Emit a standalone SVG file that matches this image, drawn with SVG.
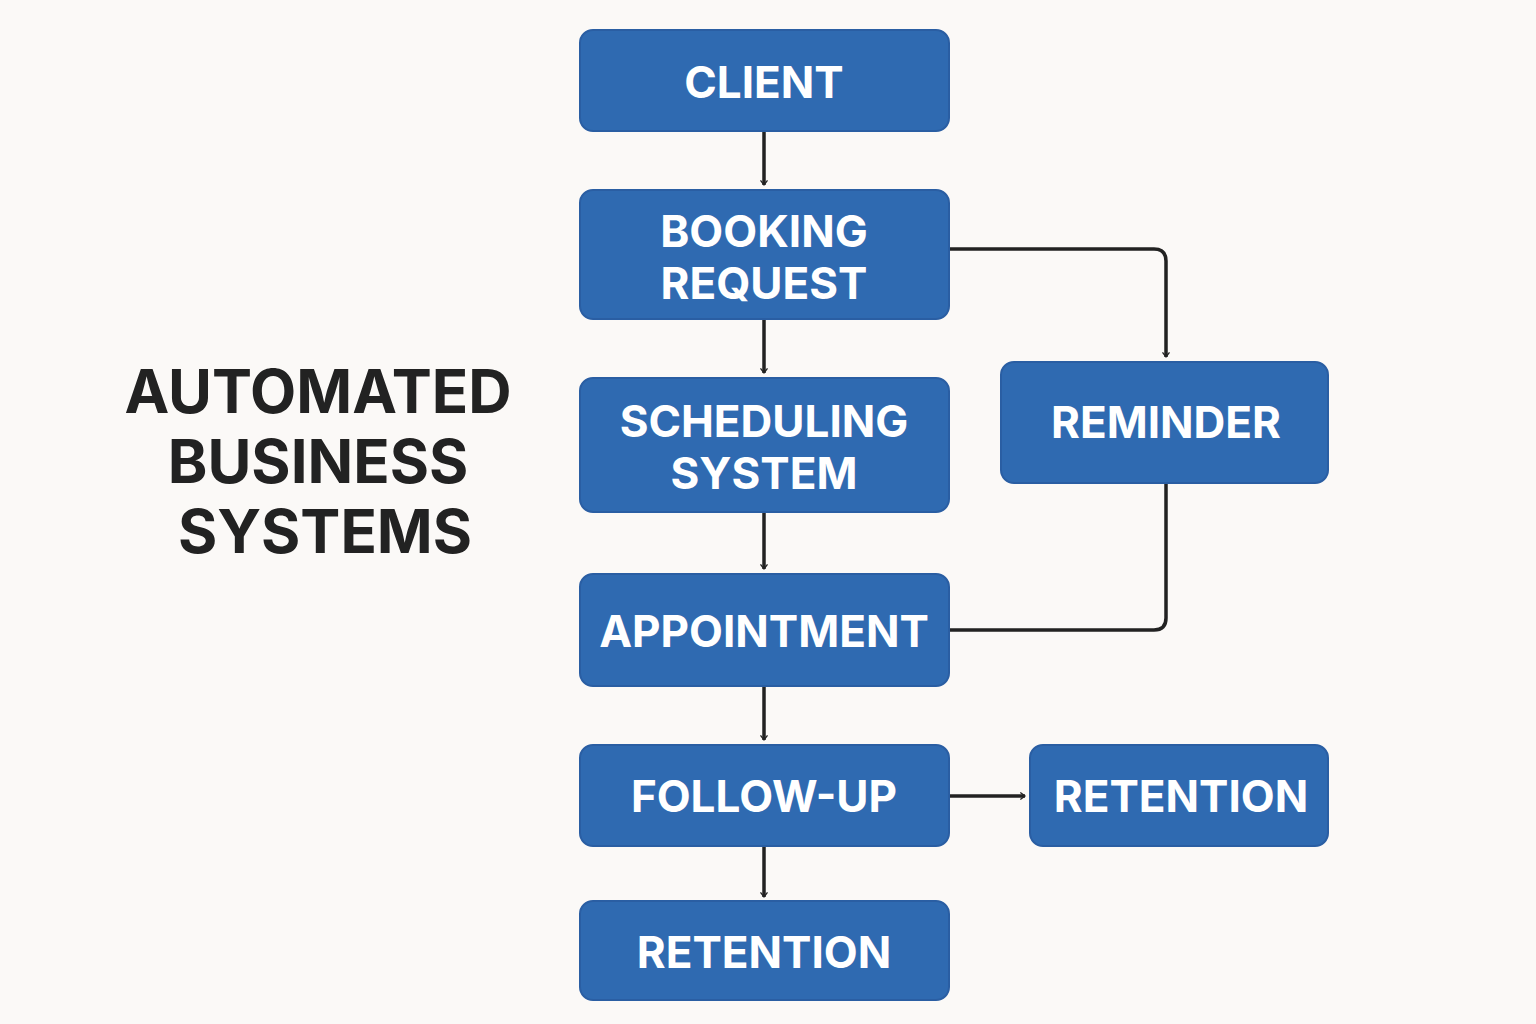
<svg xmlns="http://www.w3.org/2000/svg" width="1536" height="1024" viewBox="0 0 1536 1024">
<defs>
<style>
.n{fill:#2f6ab1;stroke:#2a5ea3;stroke-width:2}
.t{fill:#fff;font-family:Inter,"Liberation Sans",sans-serif;font-weight:700;font-size:44px;text-anchor:middle}
.h{fill:#222;font-family:Inter,"Liberation Sans",sans-serif;font-weight:700;font-size:60px;text-anchor:middle}
.c{fill:none;stroke:#222;stroke-width:3.5;stroke-linejoin:round}
</style>
<marker id="a" viewBox="0 0 12 12" refX="10" refY="6" markerWidth="7" markerHeight="7" markerUnits="userSpaceOnUse" orient="auto" style="overflow:visible">
<path d="M2,0 L10,6 L2,12" fill="none" stroke="#222" stroke-width="2.2"/>
</marker>
</defs>
<rect width="1536" height="1024" fill="#fbf9f7"/>
<g id="title"><text class="h" x="318" y="413">AUTOMATED</text><text class="h" x="318" y="483">BUSINESS</text><text class="h" x="325" y="553">SYSTEMS</text></g>
<g id="connectors">
<path class="c" marker-end="url(#a)" d="M764,131 V185"/>
<path class="c" marker-end="url(#a)" d="M764,319 V373"/>
<path class="c" marker-end="url(#a)" d="M764,512 V569"/>
<path class="c" marker-end="url(#a)" d="M764,686 V740"/>
<path class="c" marker-end="url(#a)" d="M764,846 V897"/>
<path class="c" marker-end="url(#a)" d="M949,249 H1154 Q1166,249 1166,261 V357"/>
<path class="c" d="M1166,483 V618 Q1166,630 1154,630 H949"/>
<path class="c" marker-end="url(#a)" d="M949,796 H1025"/>
</g>
<g id="client"><rect class="n" x="580" y="30" width="369" height="101" rx="13"/><text class="t" x="764" y="98">CLIENT</text></g>
<g id="booking"><rect class="n" x="580" y="190" width="369" height="129" rx="13"/><text class="t" x="764" y="247">BOOKING</text><text class="t" x="764" y="299">REQUEST</text></g>
<g id="scheduling"><rect class="n" x="580" y="378" width="369" height="134" rx="13"/><text class="t" x="764" y="437">SCHEDULING</text><text class="t" x="764" y="489">SYSTEM</text></g>
<g id="appointment"><rect class="n" x="580" y="574" width="369" height="112" rx="13"/><text class="t" x="764" y="647">APPOINTMENT</text></g>
<g id="followup"><rect class="n" x="580" y="745" width="369" height="101" rx="13"/><text class="t" x="764" y="812">FOLLOW-UP</text></g>
<g id="retention1"><rect class="n" x="580" y="901" width="369" height="99" rx="13"/><text class="t" x="764" y="968">RETENTION</text></g>
<g id="reminder"><rect class="n" x="1001" y="362" width="327" height="121" rx="13"/><text class="t" x="1166" y="438">REMINDER</text></g>
<g id="retention2"><rect class="n" x="1030" y="745" width="298" height="101" rx="13"/><text class="t" x="1181" y="812">RETENTION</text></g>
</svg>
